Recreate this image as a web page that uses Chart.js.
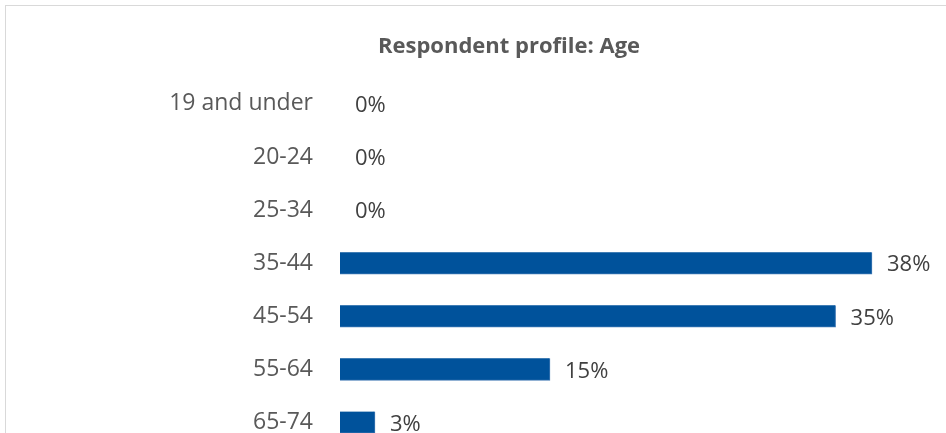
<!DOCTYPE html>
<html>
<head>
<meta charset="utf-8">
<script src="https://cdn.jsdelivr.net/npm/chart.js@4"></script>
<style>
    html, body { margin: 0; padding: 0; background: #fff; overflow: hidden; }
    body { width: 946px; height: 433px; position: relative; }
    .frame {
        position: absolute; left: 5px; top: 5px;
        width: 1000px; height: 500px;
        border: 1px solid #d9d9d9; border-right: none; border-bottom: none;
        box-sizing: border-box;
    }
    #chart { position: absolute; left: 0; top: 0; }
</style>
</head>
<body>
<div class="frame"></div>
<!-- canvas is taller than the window: the last row is cut off as in the original -->
<canvas id="chart" width="946" height="460"></canvas>
<script>
// Age groups and share of respondents (%)
const ageGroups = ['19 and under', '20-24', '25-34', '35-44', '45-54', '55-64', '65-74'];
const shares = [0, 0, 0, 38, 35.4, 15, 2.5];

const FONT = '"Open Sans", sans-serif';

// draws "NN%" to the right of each bar
const valueLabels = {
    id: 'valueLabels',
    afterDatasetsDraw(chart) {
        const ctx = chart.ctx;
        const meta = chart.getDatasetMeta(0);
        ctx.save();
        ctx.font = '22px ' + FONT;
        ctx.fillStyle = '#404040';
        ctx.textAlign = 'left';
        ctx.textBaseline = 'middle';
        meta.data.forEach((bar, i) => {
            const v = chart.data.datasets[0].data[i];
            ctx.fillText(Math.round(v) + '%', bar.x + 15, bar.y + 2);
        });
        ctx.restore();
    },
};

new Chart(document.getElementById('chart'), {
    type: 'bar',
    data: {
        labels: ageGroups,
        datasets: [{
            data: shares,
            backgroundColor: '#00529b',
            borderColor: '#3f78b4',
            borderWidth: { bottom: 1, right: 1 },
            barThickness: 22,
        }],
    },
    options: {
        indexAxis: 'y',
        responsive: false,
        animation: false,
        layout: { padding: { top: 0, right: 46, bottom: 11, left: 118 } },
        plugins: {
            legend: { display: false },
            tooltip: { enabled: false },
            title: {
                display: true,
                text: 'Respondent profile: Age',
                color: '#595959',
                font: { family: FONT, size: 22, weight: 'bold' },
                padding: { top: 34, bottom: 17 },
            },
        },
        scales: {
            x: { display: false, min: 0, max: 40 },
            y: {
                afterFit(scale) {
                    scale.width = 222;
                    scale.paddingTop = 0;
                    scale.paddingBottom = 0;
                },
                grid: { display: false, drawTicks: false },
                border: { display: false },
                ticks: {
                    color: '#595959',
                    padding: 27,
                    font: { family: FONT, size: 23 },
                },
            },
        },
    },
    plugins: [valueLabels],
});
</script>
</body>
</html>
